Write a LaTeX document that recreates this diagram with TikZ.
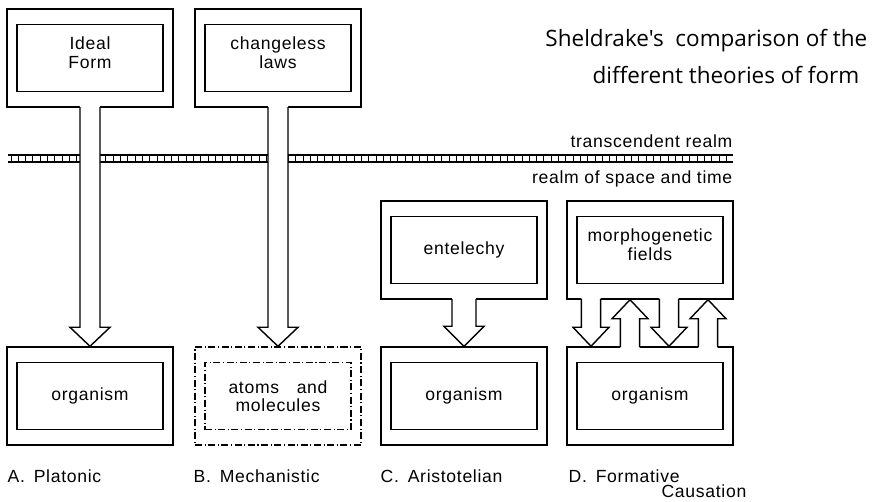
\documentclass[tikz,border=0pt]{standalone}
\usepackage{fontspec}
\setmainfont{Liberation Sans}[LetterSpace=4]
\newfontfamily\titlefont{Open Sans}[Ligatures=TeXOff]
\usetikzlibrary{calc}

% hollow block arrow from #1 to the tip #2: stem half width, head half width, head length
\newcommand{\fatarrow}[5]{%
  \coordinate (fa-s) at #1;
  \coordinate (fa-t) at #2;
  \coordinate (fa-e) at ($(fa-s)!-1.2pt!(fa-t)$);
  \coordinate (fa-h) at ($(fa-t)!#5!(fa-s)$);
  \fill[white] ($(fa-e)!#3!90:(fa-t)$) -- ($(fa-h)!#3!-90:(fa-s)$) -- ($(fa-h)!#4!-90:(fa-s)$)
    -- (fa-t) -- ($(fa-h)!#4!90:(fa-s)$) -- ($(fa-h)!#3!90:(fa-s)$) -- ($(fa-e)!#3!-90:(fa-t)$) -- cycle;
  \draw[line cap=rect] ($(fa-s)!#3!90:(fa-t)$) -- ($(fa-h)!#3!-90:(fa-s)$) -- ($(fa-h)!#4!-90:(fa-s)$)
    -- (fa-t) -- ($(fa-h)!#4!90:(fa-s)$) -- ($(fa-h)!#3!90:(fa-s)$) -- ($(fa-s)!#3!-90:(fa-t)$);
}

\begin{document}
\begin{tikzpicture}[x=0.025cm, y=-0.025cm, line width=1pt,
        font=\fontsize{12.5}{13}\selectfont,
        outerbox/.style={rectangle, draw, fill=white, minimum width=4.15cm, minimum height=2.45cm},
        innerbox/.style={rectangle, draw, minimum width=3.65cm, minimum height=1.675cm, align=center},
        dashdot/.style={dash pattern=on 5pt off 1.8pt on 0.8pt off 1.8pt},
        realm/.style={anchor=base east, inner sep=0pt},
        caption/.style={anchor=base west, inner sep=0pt},
        heading/.style={anchor=base east, inner sep=0pt, font=\titlefont\fontsize{16}{18}\selectfont}
    ]
    \useasboundingbox (0,0) rectangle (880,501);

    \draw (8,155) -- (733,155);
    \draw (8,162) -- (733,162);
    \foreach \x in {11,18.3,...,733} \draw[line width=0.7pt] (\x,155) -- (\x,162);

    \node[heading] (title1) at (868,46) {Sheldrake's\ \ comparison of the};
    \node[heading] (title2) at (860,83) {different theories of form};
    \node[realm] (trans) at (733,147) {transcendent realm};
    \node[realm] (space) at (733,183) {realm of space and time};

    \node[outerbox] (topA) at (90,58) {};
    \node[innerbox, text depth=7.5pt] (ideal) at (topA) {Ideal\\Form};
    \node[outerbox] (botA) at (90,396) {};
    \node[innerbox] (orgA) at (botA) {organism};

    \node[outerbox] (topB) at (278,58) {};
    \node[innerbox, text depth=7.5pt] (laws) at (topB) {changeless\\laws};
    \node[outerbox, dashdot] (botB) at (278,396) {};
    \node[innerbox, dashdot] (atoms) at (botB) {atoms\hspace{1em}and\\molecules};

    \node[outerbox] (topC) at (464,250) {};
    \node[innerbox] (entel) at (topC) {entelechy};
    \node[outerbox] (botC) at (464,396) {};
    \node[innerbox] (orgC) at (botC) {organism};

    \node[outerbox] (topD) at (650,250) {};
    \node[innerbox, text depth=7.5pt] (fields) at (topD) {morphogenetic\\fields};
    \node[outerbox] (botD) at (650,396) {};
    \node[innerbox] (orgD) at (botD) {organism};

    \fatarrow{(topA.south)}{(botA.north)}{0.25cm}{0.5cm}{0.475cm}
    \fatarrow{(topB.south)}{(botB.north)}{0.25cm}{0.5cm}{0.475cm}
    \fatarrow{(topC.south)}{(botC.north)}{0.3cm}{0.5cm}{0.5cm}
    \fatarrow{($(topD.south)+(-59,0)$)}{($(botD.north)+(-59,0)$)}{0.24cm}{0.45cm}{0.475cm}
    \fatarrow{($(botD.north)+(-20,0)$)}{($(topD.south)+(-20,0)$)}{0.24cm}{0.45cm}{0.475cm}
    \fatarrow{($(topD.south)+(19,0)$)}{($(botD.north)+(19,0)$)}{0.24cm}{0.45cm}{0.475cm}
    \fatarrow{($(botD.north)+(58,0)$)}{($(topD.south)+(58,0)$)}{0.24cm}{0.45cm}{0.475cm}

    \node[caption] (capA) at (7,482) {A.\hspace{0.5em}Platonic};
    \node[caption] (capB) at (193,482) {B.\hspace{0.5em}Mechanistic};
    \node[caption] (capC) at (380,482) {C.\hspace{0.5em}Aristotelian};
    \node[caption] (capD) at (568,482) {D.\hspace{0.5em}Formative};
    \node[anchor=base east, inner sep=0pt] (capD2) at (747,497) {Causation};
\end{tikzpicture}
\end{document}
